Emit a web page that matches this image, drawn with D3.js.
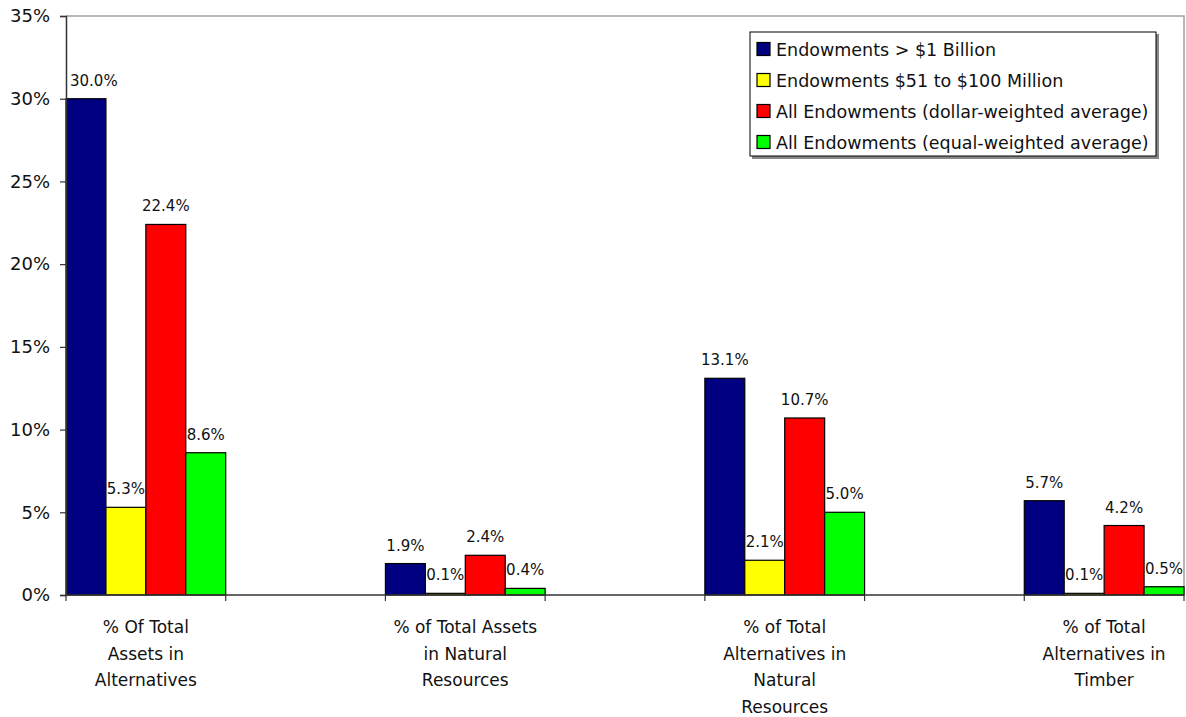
<!DOCTYPE html>
<html>
<head>
<meta charset="utf-8">
<script src="https://cdn.jsdelivr.net/npm/d3@7"></script>
<style>
  html, body { margin: 0; padding: 0; background: #fff; }
  svg text { font-family: "DejaVu Sans", sans-serif; fill: #111; }
</style>
</head>
<body>
<svg id="chart" width="1186" height="717"></svg>
<script>
// Category labels (each entry is a list of wrapped lines)
const categories = [
  "% Of Total Assets in Alternatives",
  "% of Total Assets in Natural Resources",
  "% of Total Alternatives in Natural Resources",
  "% of Total Alternatives in Timber"
];
const categoryLines = [
  ["% Of Total", "Assets in", "Alternatives"],
  ["% of Total Assets", "in Natural", "Resources"],
  ["% of Total", "Alternatives in", "Natural", "Resources"],
  ["% of Total", "Alternatives in", "Timber"]
];

// Series (values in percent, one per category)
const seriesNames = [
  "Endowments > $1 Billion",
  "Endowments $51 to $100 Million",
  "All Endowments (dollar-weighted average)",
  "All Endowments (equal-weighted average)"
];
const seriesColors = ["#000080", "#FFFF00", "#FF0000", "#00FF00"];
const over1Billion   = [30.0, 1.9, 13.1, 5.7];
const from51to100M   = [5.3, 0.1, 2.1, 0.1];
const dollarWeighted = [22.4, 2.4, 10.7, 4.2];
const equalWeighted  = [8.6, 0.4, 5.0, 0.5];
const seriesValues = [over1Billion, from51to100M, dollarWeighted, equalWeighted];

// Y axis ticks
const yTicks = [0, 5, 10, 15, 20, 25, 30, 35];

const svg = d3.select("#chart");
const plotLeft = 66, plotRight = 1184, plotTop = 16, plotBottom = 595;

const y = d3.scaleLinear().domain([0, 35]).range([plotBottom, plotTop]);
const x0 = d3.scaleBand().domain(categories).range([plotLeft, plotRight])
  .paddingInner(0.5).paddingOuter(0);
const x1 = d3.scaleBand().domain(d3.range(seriesNames.length))
  .range([0, x0.bandwidth()]).padding(0);

// Plot frame (top and right edges)
svg.append("path")
  .attr("d", `M${plotLeft},${plotTop}H${plotRight}V${plotBottom}`)
  .attr("fill", "none").attr("stroke", "#a0a0a0").attr("stroke-width", 1.5);

// Bars
const groups = svg.append("g").selectAll("g")
  .data(categories).join("g")
  .attr("transform", d => `translate(${x0(d)},0)`);

groups.each(function(cat, ci) {
  const g = d3.select(this);
  seriesValues.forEach((vals, si) => {
    const v = vals[ci];
    g.append("rect")
      .attr("x", x1(si))
      .attr("y", y(v))
      .attr("width", x1.bandwidth())
      .attr("height", y(0) - y(v))
      .attr("fill", seriesColors[si])
      .attr("stroke", "#000").attr("stroke-width", 1.2);
  });
});

// Value labels
const fmt = d3.format(".1f");
groups.each(function(cat, ci) {
  const g = d3.select(this);
  const gx = x0(cat);
  seriesValues.forEach((vals, si) => {
    const v = vals[ci];
    const t = g.append("text")
      .attr("x", x1(si) + x1.bandwidth() / 2)
      .attr("y", y(v) - 13)
      .attr("text-anchor", "middle")
      .attr("font-size", 15)
      .text(fmt(v) + "%");
    // keep labels clear of the value axis
    const bb = t.node().getBBox();
    if (gx + bb.x < plotLeft + 4) {
      t.attr("x", +t.attr("x") + (plotLeft + 4 - (gx + bb.x)));
    }
  });
});

// Y axis
const yAxis = svg.append("g").attr("transform", `translate(${plotLeft},0)`)
  .call(d3.axisLeft(y).tickValues(yTicks).tickSize(6).tickPadding(10)
    .tickFormat(d => d + "%"));
yAxis.select(".domain").attr("stroke", "#333").attr("stroke-width", 1.5);
yAxis.selectAll(".tick line").attr("stroke", "#333").attr("stroke-width", 1.2);
yAxis.selectAll("text").attr("font-size", 18).attr("font-family", "DejaVu Sans").attr("fill", "#111");

// X axis line and ticks at each group edge
svg.append("line")
  .attr("x1", plotLeft).attr("x2", plotRight).attr("y1", plotBottom).attr("y2", plotBottom)
  .attr("stroke", "#333").attr("stroke-width", 1.5);
const edges = [];
categories.forEach(c => { edges.push(x0(c)); edges.push(x0(c) + x0.bandwidth()); });
svg.append("g").selectAll("line").data(edges).join("line")
  .attr("x1", d => d).attr("x2", d => d)
  .attr("y1", plotBottom).attr("y2", plotBottom + 6)
  .attr("stroke", "#333").attr("stroke-width", 1.2);

// Category labels
groups.each(function(cat, ci) {
  const t = d3.select(this).append("text")
    .attr("text-anchor", "middle")
    .attr("font-size", 17);
  categoryLines[ci].forEach((line, li) => {
    t.append("tspan")
      .attr("x", x0.bandwidth() / 2)
      .attr("y", 633 + li * 26.7)
      .text(line);
  });
});

// Legend
const lg = svg.append("g").attr("transform", "translate(750,32)");
lg.append("rect").attr("x", 2).attr("y", 2).attr("width", 407).attr("height", 125)
  .attr("fill", "#888");
lg.append("rect").attr("x", 0).attr("y", 0).attr("width", 406).attr("height", 124)
  .attr("fill", "#fff").attr("stroke", "#000").attr("stroke-width", 1);
seriesNames.forEach((name, i) => {
  const cy = 17 + i * 31;
  lg.append("rect")
    .attr("x", 7).attr("y", cy - 6.5).attr("width", 13).attr("height", 13)
    .attr("fill", seriesColors[i]).attr("stroke", "#000").attr("stroke-width", 1.2);
  lg.append("text")
    .attr("x", 26).attr("y", cy + 6.5)
    .attr("font-size", 17.5)
    .text(name);
});
</script>
</body>
</html>
